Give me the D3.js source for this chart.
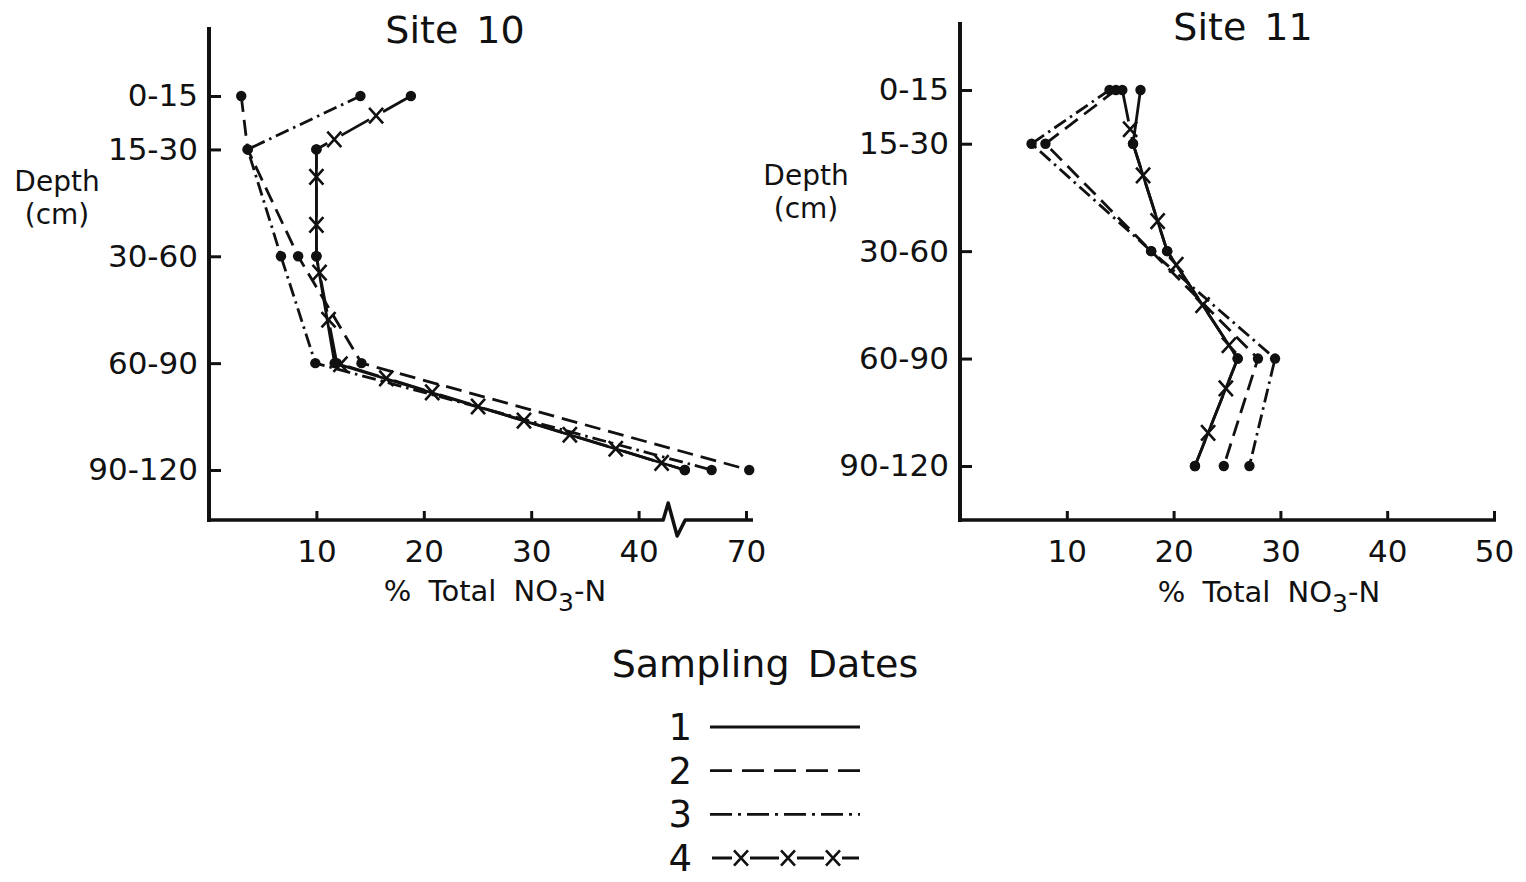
<!DOCTYPE html>
<html><head><meta charset="utf-8">
<script src="https://cdn.jsdelivr.net/npm/d3@7"></script>
<style>
body{margin:0;background:#fff}
text{font-family:"DejaVu Sans",sans-serif;fill:#111}
</style>
</head><body>
<svg id="c" width="1526" height="882"></svg>
<script>
// ---------------- data ----------------
const depthLabels = ["0-15", "15-30", "30-60", "60-90", "90-120"];
const depthBottoms = [15, 30, 60, 90, 120];
const dateNames = ["1", "2", "3", "4"];
const site10Ticks = [10, 20, 30, 40, 70];
const site11Ticks = [10, 20, 30, 40, 50];
// % total NO3-N per depth, one array per sampling date
const site10Date1 = [null, 10.0, 10.0, 11.7, 64.3];
const site10Date2 = [3.0, 3.6, 8.3, 14.2, 70.3];
const site10Date3 = [14.1, 3.6, 6.7, 9.9, 66.8];
const site10Date4 = [18.8, 10.0, 10.0, 11.9, 64.3];
const site11Date1 = [16.9, 16.2, 19.4, 26.0, 22.0];
const site11Date2 = [14.6, 8.0, 17.9, 27.9, 24.7];
const site11Date3 = [14.0, 6.7, 17.9, 29.5, 27.1];
const site11Date4 = [15.2, 16.2, 19.4, 26.0, 22.0];

// ---------------- styles ----------------
const ink = "#111";
const dashStyles = { "1": null, "2": "16,8", "3": "14,5,2.5,5", "4": "32,16" };

const svg = d3.select("#c");

function xMark(g, x, y, s) {
  g.append("path")
    .attr("d", `M${x - s},${y - s * 1.1}L${x + s},${y + s * 1.1}M${x - s},${y + s * 1.1}L${x + s},${y - s * 1.1}`)
    .attr("stroke", ink).attr("stroke-width", 2.6).attr("fill", "none");
}

function panel(cfg) {
  const g = svg.append("g");
  const lin = d3.scaleLinear().domain([0, 50]).range([cfg.x0, cfg.x1]);
  const brk = cfg.brk || (v => v);
  const xs = v => lin(brk(v));
  const ys = d3.scaleLinear().domain([15, 120]).range([cfg.y15, cfg.y120]);

  // axes ticks + labels
  const xAxis = d3.axisBottom(lin)
    .tickValues(cfg.ticks.map(brk))
    .tickFormat((d, i) => cfg.ticks[i])
    .tickSizeInner(-9).tickSizeOuter(0).tickPadding(20);
  const gx = g.append("g").attr("transform", `translate(0,${cfg.axisY})`).call(xAxis);
  const yAxis = d3.axisLeft(ys)
    .tickValues(depthBottoms)
    .tickFormat((d, i) => depthLabels[i])
    .tickSizeInner(-12).tickSizeOuter(0).tickPadding(11);
  const gy = g.append("g").attr("transform", `translate(${cfg.x0},0)`).call(yAxis);
  [gx, gy].forEach(a => {
    a.select(".domain").remove();
    a.selectAll(".tick line").attr("stroke", ink).attr("stroke-width", 3);
    a.selectAll(".tick text").attr("font-size", 31).attr("fill", ink)
      .style("font-family", '"DejaVu Sans",sans-serif');
  });

  // axis lines
  g.append("line").attr("x1", cfg.x0).attr("x2", cfg.x0)
    .attr("y1", cfg.axisTop).attr("y2", cfg.axisY + 2)
    .attr("stroke", ink).attr("stroke-width", 4);
  let d;
  if (cfg.breakAt != null) {
    const bx = lin(cfg.breakAt), Y = cfg.axisY;
    d = `M${cfg.x0 - 2},${Y}H${bx - 13}L${bx - 8},${Y - 17}L${bx + 1},${Y + 16}L${bx + 9},${Y}H${cfg.xEnd}`;
  } else {
    d = `M${cfg.x0 - 2},${cfg.axisY}H${cfg.xEnd}`;
  }
  g.append("path").attr("d", d).attr("fill", "none")
    .attr("stroke", ink).attr("stroke-width", 3.5).attr("stroke-linejoin", "round");

  // titles
  g.append("text").attr("x", cfg.titleX).attr("y", cfg.titleY)
    .attr("text-anchor", "middle").attr("font-size", 38)
    .style("word-spacing", "6px").text(cfg.title);
  g.append("text").attr("x", cfg.depthX).attr("y", cfg.depthY)
    .attr("text-anchor", "middle").attr("font-size", 28).text("Depth");
  g.append("text").attr("x", cfg.depthX).attr("y", cfg.depthY + 33)
    .attr("text-anchor", "middle").attr("font-size", 28).text("(cm)");
  const xt = g.append("text").attr("x", cfg.xTitleX).attr("y", cfg.xTitleY)
    .attr("text-anchor", "middle").attr("font-size", 29).style("word-spacing", "8px");
  xt.append("tspan").text("% Total NO");
  xt.append("tspan").attr("font-size", 25).attr("dy", 10).text("3");
  xt.append("tspan").attr("dy", -10).text("-N");

  // series
  const line = d3.line()
    .defined(p => p.v != null)
    .x(p => xs(p.v)).y(p => ys(p.depth));
  cfg.series.forEach((vals, si) => {
    const name = dateNames[si];
    const pts = vals.map((v, i) => ({ v, depth: depthBottoms[i] }));
    const path = g.append("path").datum(pts).attr("d", line)
      .attr("fill", "none").attr("stroke", ink).attr("stroke-width", 2.8)
      .attr("stroke-linejoin", "round")
      .attr("stroke-dasharray", dashStyles[name]);
    pts.filter(p => p.v != null).forEach(p => {
      g.append("circle").attr("cx", xs(p.v)).attr("cy", ys(p.depth))
        .attr("r", 5.2).attr("fill", ink);
    });
    if (name === "4") {
      const node = path.node();
      const L = node.getTotalLength();
      for (let s = 40; s < L - 12; s += 48) {
        const q = node.getPointAtLength(s);
        xMark(g, q.x, q.y, 7);
      }
    }
  });
}

panel({
  x0: 209, x1: 746, xEnd: 753, axisY: 520, axisTop: 27,
  y15: 96, y120: 470,
  ticks: site10Ticks,
  brk: v => (v > 45 ? v - 20 : v), breakAt: 43.5,
  title: "Site 10", titleX: 455, titleY: 43,
  depthX: 57, depthY: 191,
  xTitleX: 495, xTitleY: 601,
  series: [site10Date1, site10Date2, site10Date3, site10Date4]
});

panel({
  x0: 960, x1: 1494, xEnd: 1496, axisY: 520, axisTop: 22,
  y15: 90, y120: 466,
  ticks: site11Ticks,
  title: "Site 11", titleX: 1243, titleY: 40,
  depthX: 806, depthY: 185,
  xTitleX: 1269, xTitleY: 602,
  series: [site11Date1, site11Date2, site11Date3, site11Date4]
});

// ---------------- legend ----------------
const lg = svg.append("g");
lg.append("text").attr("x", 765).attr("y", 677).attr("text-anchor", "middle")
  .attr("font-size", 38).style("word-spacing", "6px").text("Sampling Dates");
const legendY = d3.scalePoint().domain(dateNames).range([727, 858]);
dateNames.forEach(n => {
  const y = legendY(n);
  lg.append("text").attr("x", 692).attr("y", y + 13).attr("text-anchor", "end")
    .attr("font-size", 37).text(n);
  if (n === "4") {
    const xsL = [741, 788, 833];
    lg.append("line").attr("x1", 712).attr("x2", 859).attr("y1", y).attr("y2", y)
      .attr("stroke", ink).attr("stroke-width", 2.8)
      .attr("stroke-dasharray", "20,18,29,18,27,18,26");
    xsL.forEach(x => xMark(lg, x, y, 7));
  } else {
    lg.append("line").attr("x1", 710).attr("x2", 860).attr("y1", y).attr("y2", y)
      .attr("stroke", ink).attr("stroke-width", 2.8)
      .attr("stroke-dasharray", n === "2" ? "22,10" : n === "3" ? "22,6,3,6" : null);
  }
});
</script>
</body></html>
